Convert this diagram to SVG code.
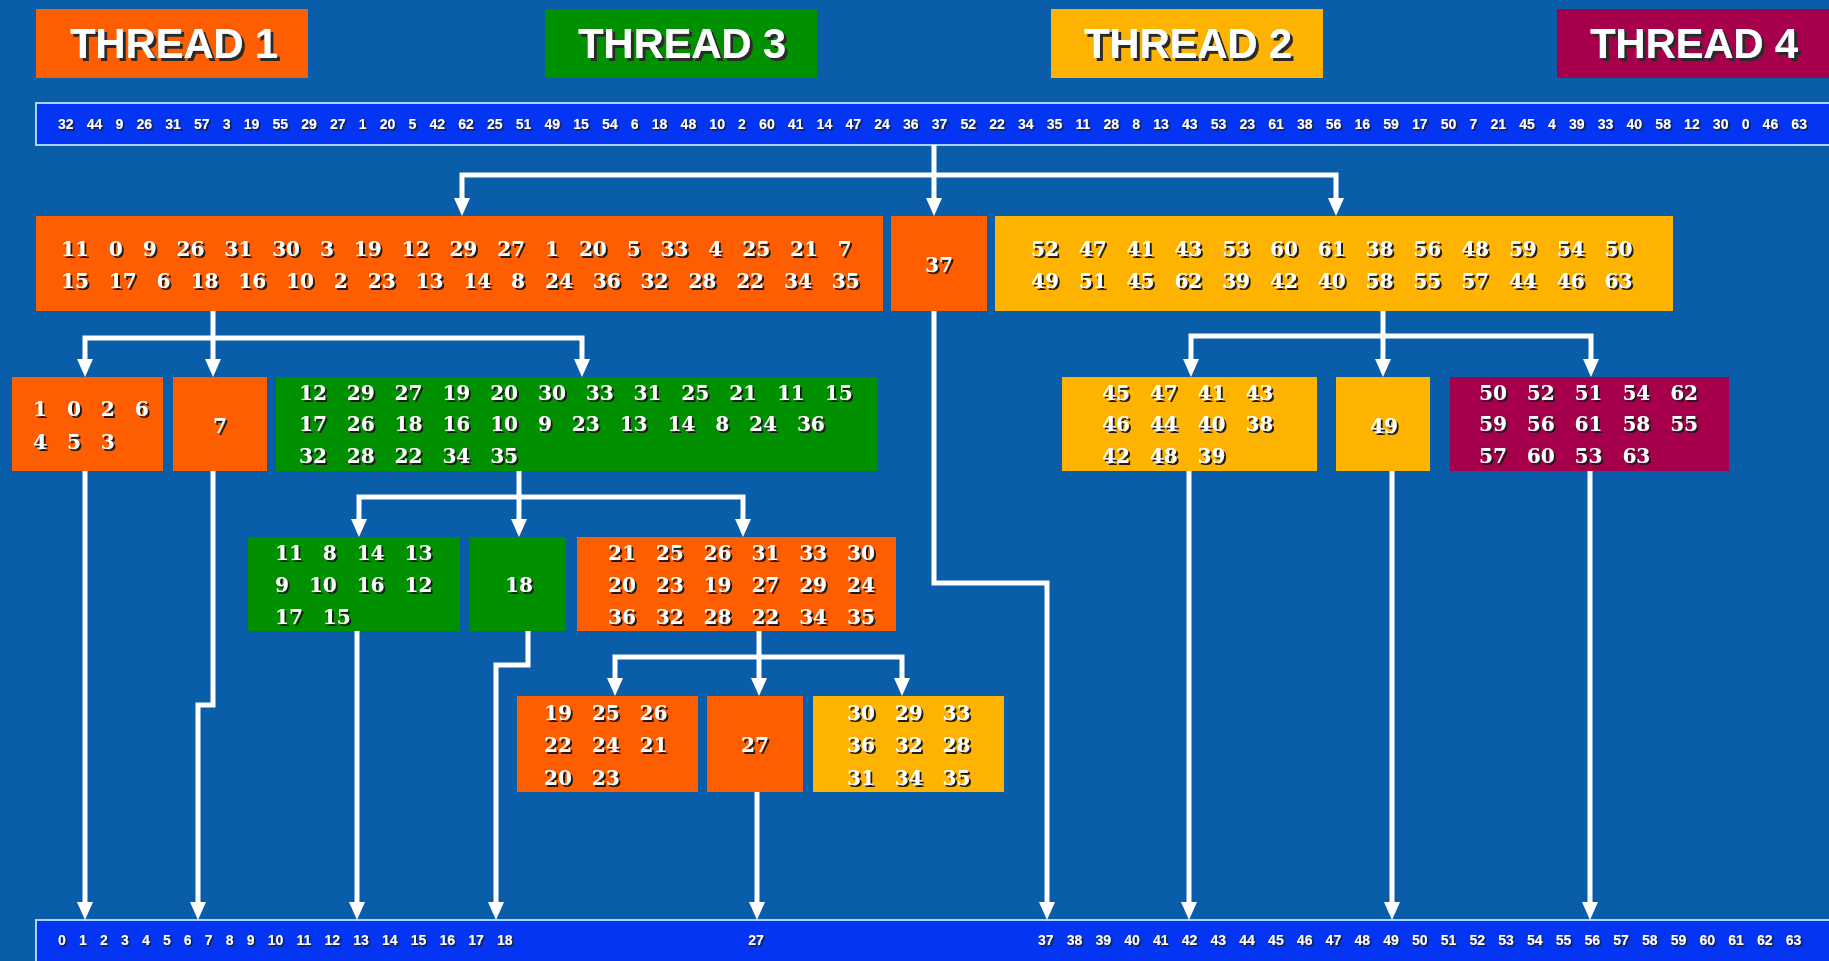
<svg xmlns="http://www.w3.org/2000/svg" width="1829" height="961" viewBox="0 0 1829 961">
  <defs>
    <style>
      .bg { fill: #0a5da8; }
      .or { fill: #fe5d00; }
      .gr { fill: #009000; }
      .ye { fill: #fdb300; }
      .ma { fill: #a6004c; }
      .bar { fill: #0335f2; stroke: #a8d4ff; stroke-width: 2; }
      .title { font-family: "Liberation Sans", Arial, sans-serif; font-weight: bold; font-size: 42px; fill: #ffffff; text-anchor: middle; filter: url(#sh3); }
      .n { font-family: "DejaVu Serif", "Liberation Serif", serif; font-weight: bold; font-size: 20px; fill: #ffffff; word-spacing: 13px; filter: url(#sh2); }
      .c { text-anchor: middle; }
      .s { font-family: "Liberation Sans", Arial, sans-serif; font-weight: bold; font-size: 14px; fill: #ffffff; word-spacing: 9.3px; filter: url(#sh1); }
      .wire { fill: none; stroke: #ffffff; stroke-width: 5; stroke-linejoin: miter; }
      .arr { marker-end: url(#ah); }
    </style>
    <filter id="sh1" x="-5%" y="-30%" width="110%" height="160%">
      <feDropShadow dx="1.5" dy="1.5" stdDeviation="0.2" flood-color="#1a1a2a" flood-opacity="1"/>
    </filter>
    <filter id="sh2" x="-5%" y="-30%" width="110%" height="160%">
      <feDropShadow dx="2" dy="2" stdDeviation="0.3" flood-color="#1a1a1a" flood-opacity="1"/>
    </filter>
    <filter id="sh3" x="-5%" y="-30%" width="110%" height="160%">
      <feDropShadow dx="3" dy="3" stdDeviation="0.3" flood-color="#2a2a2a" flood-opacity="1"/>
    </filter>
    <marker id="ah" viewBox="0 0 18 16" markerWidth="18" markerHeight="16" refX="8" refY="8" orient="auto" markerUnits="userSpaceOnUse">
      <path d="M0,0 L18,8 L0,16 z" fill="#ffffff"/>
    </marker>
  </defs>

  <rect class="bg" x="0" y="0" width="1829" height="961"/>

  <!-- thread legend -->
  <g id="thread-1">
    <rect class="or" x="36" y="9" width="272" height="69"/>
    <text class="title" x="174" y="58" textLength="208">THREAD 1</text>
  </g>
  <g id="thread-3">
    <rect class="gr" x="545" y="9" width="272" height="69"/>
    <text class="title" x="682" y="58" textLength="208">THREAD 3</text>
  </g>
  <g id="thread-2">
    <rect class="ye" x="1051" y="9" width="272" height="69"/>
    <text class="title" x="1188" y="58" textLength="208">THREAD 2</text>
  </g>
  <g id="thread-4">
    <rect class="ma" x="1557" y="9" width="280" height="69"/>
    <text class="title" x="1694" y="58" textLength="208">THREAD 4</text>
  </g>

  <!-- input array -->
  <g id="input">
    <rect class="bar" x="36" y="103" width="1800" height="42"/>
    <text class="s" x="58" y="129">32 44 9 26 31 57 3 19 55 29 27 1 20 5 42 62 25 51 49 15 54 6 18 48 10 2 60 41 14 47 24 36 37 52 22 34 35 11 28 8 13 43 53 23 61 38 56 16 59 17 50 7 21 45 4 39 33 40 58 12 30 0 46 63</text>
  </g>

  <!-- sorted output -->
  <g id="output">
    <rect class="bar" x="36" y="920" width="1800" height="45"/>
    <text class="s" x="58" y="945">0 1 2 3 4 5 6 7 8 9 10 11 12 13 14 15 16 17 18</text>
    <text class="s c" x="756" y="945">27</text>
    <text class="s" x="1038" y="945">37 38 39 40 41 42 43 44 45 46 47 48 49 50 51 52 53 54 55 56 57 58 59 60 61 62 63</text>
  </g>

  <!-- connectors -->
  <g id="connectors">
    <path class="wire arr" d="M934,145 V206"/>
    <path class="wire arr" d="M934,175 H462 V206"/>
    <path class="wire arr" d="M934,175 H1336 V206"/>

    <path class="wire arr" d="M213,311 V367"/>
    <path class="wire arr" d="M213,338 H85 V367"/>
    <path class="wire arr" d="M213,338 H582 V367"/>

    <path class="wire arr" d="M1383,311 V367"/>
    <path class="wire arr" d="M1383,336 H1191 V367"/>
    <path class="wire arr" d="M1383,336 H1591 V367"/>

    <path class="wire arr" d="M519,471 V527"/>
    <path class="wire arr" d="M519,497 H359 V527"/>
    <path class="wire arr" d="M519,497 H743 V527"/>

    <path class="wire arr" d="M759,631 V686"/>
    <path class="wire arr" d="M759,657 H615 V686"/>
    <path class="wire arr" d="M759,657 H902 V686"/>

    <path class="wire arr" d="M85,471 V910"/>
    <path class="wire arr" d="M213,471 V705 H198 V910"/>
    <path class="wire arr" d="M357,631 V910"/>
    <path class="wire arr" d="M528,631 V665 H496 V910"/>
    <path class="wire arr" d="M757,792 V910"/>
    <path class="wire arr" d="M934,311 V583 H1047 V910"/>
    <path class="wire arr" d="M1189,471 V910"/>
    <path class="wire arr" d="M1392,471 V910"/>
    <path class="wire arr" d="M1590,471 V910"/>
  </g>

  <!-- level 1 -->
  <g id="part-low">
    <rect class="or" x="36" y="216" width="847" height="95"/>
    <text class="n" x="61" y="256">11 0 9 26 31 30 3 19 12 29 27 1 20 5 33 4 25 21 7</text>
    <text class="n" x="61" y="288">15 17 6 18 16 10 2 23 13 14 8 24 36 32 28 22 34 35</text>
  </g>
  <g id="pivot-37">
    <rect class="or" x="891" y="216" width="96" height="95"/>
    <text class="n c" x="939" y="272">37</text>
  </g>
  <g id="part-high">
    <rect class="ye" x="995" y="216" width="678" height="95"/>
    <text class="n" x="1031" y="256">52 47 41 43 53 60 61 38 56 48 59 54 50</text>
    <text class="n" x="1031" y="288">49 51 45 62 39 42 40 58 55 57 44 46 63</text>
  </g>

  <!-- level 2 -->
  <g id="part-0-6">
    <rect class="or" x="12" y="377" width="151" height="94"/>
    <text class="n" x="33" y="416">1 0 2 6</text>
    <text class="n" x="33" y="449">4 5 3</text>
  </g>
  <g id="pivot-7">
    <rect class="or" x="173" y="377" width="94" height="94"/>
    <text class="n c" x="220" y="433">7</text>
  </g>
  <g id="part-8-36">
    <rect class="gr" x="276" y="377" width="602" height="94"/>
    <text class="n" x="299" y="400">12 29 27 19 20 30 33 31 25 21 11 15</text>
    <text class="n" x="299" y="431">17 26 18 16 10 9 23 13 14 8 24 36</text>
    <text class="n" x="299" y="463">32 28 22 34 35</text>
  </g>
  <g id="part-38-48">
    <rect class="ye" x="1062" y="377" width="255" height="94"/>
    <text class="n" x="1102" y="400">45 47 41 43</text>
    <text class="n" x="1102" y="431">46 44 40 38</text>
    <text class="n" x="1102" y="463">42 48 39</text>
  </g>
  <g id="pivot-49">
    <rect class="ye" x="1336" y="377" width="94" height="94"/>
    <text class="n c" x="1384" y="433">49</text>
  </g>
  <g id="part-50-63">
    <rect class="ma" x="1450" y="377" width="279" height="94"/>
    <text class="n" x="1479" y="400">50 52 51 54 62</text>
    <text class="n" x="1479" y="431">59 56 61 58 55</text>
    <text class="n" x="1479" y="463">57 60 53 63</text>
  </g>

  <!-- level 3 -->
  <g id="part-8-17">
    <rect class="gr" x="248" y="537" width="212" height="94"/>
    <text class="n" x="275" y="560">11 8 14 13</text>
    <text class="n" x="275" y="592">9 10 16 12</text>
    <text class="n" x="275" y="624">17 15</text>
  </g>
  <g id="pivot-18">
    <rect class="gr" x="470" y="537" width="96" height="94"/>
    <text class="n c" x="519" y="592">18</text>
  </g>
  <g id="part-19-36">
    <rect class="or" x="577" y="537" width="319" height="94"/>
    <text class="n" x="608" y="560">21 25 26 31 33 30</text>
    <text class="n" x="608" y="592">20 23 19 27 29 24</text>
    <text class="n" x="608" y="624">36 32 28 22 34 35</text>
  </g>

  <!-- level 4 -->
  <g id="part-19-26">
    <rect class="or" x="517" y="696" width="181" height="96"/>
    <text class="n" x="544" y="720">19 25 26</text>
    <text class="n" x="544" y="752">22 24 21</text>
    <text class="n" x="544" y="785">20 23</text>
  </g>
  <g id="pivot-27">
    <rect class="or" x="707" y="696" width="96" height="96"/>
    <text class="n c" x="755" y="752">27</text>
  </g>
  <g id="part-28-36">
    <rect class="ye" x="813" y="696" width="191" height="96"/>
    <text class="n" x="847" y="720">30 29 33</text>
    <text class="n" x="847" y="752">36 32 28</text>
    <text class="n" x="847" y="785">31 34 35</text>
  </g>
</svg>
